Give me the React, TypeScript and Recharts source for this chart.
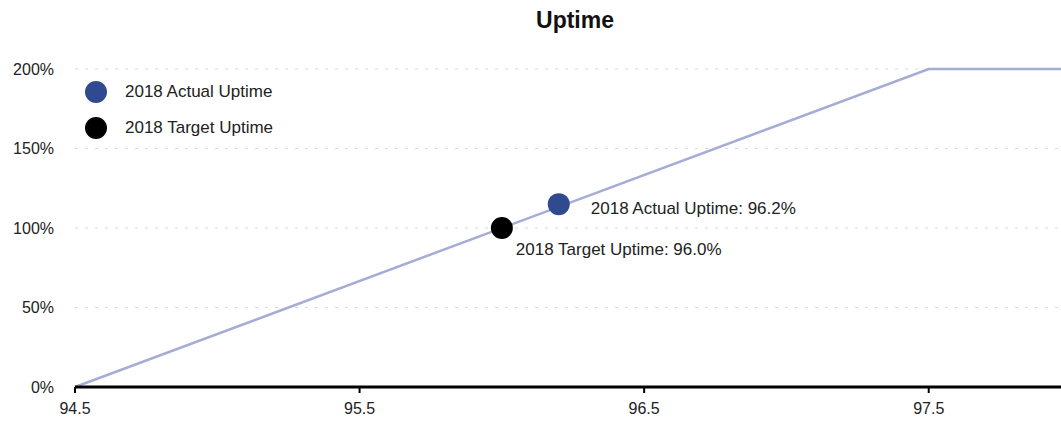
import React from "react";
import {
  ComposedChart,
  Line,
  Scatter,
  XAxis,
  YAxis,
  CartesianGrid,
} from "recharts";

const FONT = '"Liberation Sans", Arial, Helvetica, sans-serif';

// curve points: uptime (x) -> score (%)
const curveX = [94.5, 97.5, 98];
const curveY = [0, 200, 200];

const actualPoint = { x: 96.2, y: 115, label: "2018 Actual Uptime: 96.2%" };
const targetPoint = { x: 96.0, y: 100, label: "2018 Target Uptime: 96.0%" };

const legendItems = ["2018 Actual Uptime", "2018 Target Uptime"];

const xTicks = [94.5, 95.5, 96.5, 97.5];
const yTicks = [0, 50, 100, 150, 200];

const LINE_COLOR = "#a5acd6";
const ACTUAL_COLOR = "#2f4a8e";
const TARGET_COLOR = "#000000";
const legendColors = [ACTUAL_COLOR, TARGET_COLOR];

const curve = curveX.map((x, i) => ({ x, y: curveY[i] }));

function dotShape(color: string, dx: number, dy: number) {
  return (props: any) => {
    const { cx, cy, payload } = props;
    return (
      <g>
        <circle cx={cx} cy={cy} r={11} fill={color} />
        <text
          x={cx + dx}
          y={cy + dy}
          fontFamily={FONT}
          fontSize={17}
          fill="#222"
          dominantBaseline="central"
        >
          {payload.label}
        </text>
      </g>
    );
  };
}

function LegendBox() {
  return (
    <div
      style={{
        position: "absolute",
        left: 85,
        top: 74,
        fontFamily: FONT,
        fontSize: 17,
        color: "#222",
      }}
    >
      {legendItems.map((name, i) => (
        <div
          key={name}
          style={{ display: "flex", alignItems: "center", height: 36 }}
        >
          <span
            style={{
              width: 22,
              height: 22,
              borderRadius: "50%",
              background: legendColors[i],
              display: "inline-block",
              marginRight: 18,
            }}
          />
          {name}
        </div>
      ))}
    </div>
  );
}

export default function App() {
  return (
    <div
      style={{
        position: "absolute",
        left: 0,
        top: 0,
        width: 1061,
        height: 421,
        overflow: "hidden",
        background: "#fff",
      }}
    >
      <div
        style={{
          position: "absolute",
          left: 77,
          width: 996,
          top: 7,
          textAlign: "center",
          fontFamily: FONT,
          fontWeight: "bold",
          fontSize: 23,
          color: "#111",
        }}
      >
        Uptime
      </div>
      <ComposedChart
        width={1071}
        height={421}
        margin={{ top: 69, right: 0, bottom: 0, left: 0 }}
      >
        <CartesianGrid
          horizontal
          vertical={false}
          stroke="#dadada"
          strokeDasharray="3 7"
        />
        <XAxis
          type="number"
          dataKey="x"
          domain={[94.5, 98]}
          ticks={xTicks}
          height={34}
          axisLine={{ stroke: "#000", strokeWidth: 3 }}
          tickLine={{ stroke: "#000", strokeWidth: 2 }}
          tickSize={6}
          tickMargin={10}
          tick={{ fontFamily: FONT, fontSize: 16, fill: "#222" }}
        />
        <YAxis
          type="number"
          domain={[0, 200]}
          ticks={yTicks}
          width={75}
          axisLine={false}
          tickLine={false}
          tickSize={0}
          tickMargin={21}
          tickFormatter={(v) => `${v}%`}
          tick={{ fontFamily: FONT, fontSize: 16, fill: "#222" }}
        />
        <Line
          data={curve}
          dataKey="y"
          stroke={LINE_COLOR}
          strokeWidth={2.5}
          dot={false}
          activeDot={false}
          isAnimationActive={false}
          legendType="none"
        />
        <Scatter
          name="2018 Target Uptime"
          data={[targetPoint]}
          dataKey="y"
          fill={TARGET_COLOR}
          shape={dotShape(TARGET_COLOR, 14, 21)}
          isAnimationActive={false}
        />
        <Scatter
          name="2018 Actual Uptime"
          data={[actualPoint]}
          dataKey="y"
          fill={ACTUAL_COLOR}
          shape={dotShape(ACTUAL_COLOR, 32, 4)}
          isAnimationActive={false}
        />
      </ComposedChart>
      <LegendBox />
    </div>
  );
}
